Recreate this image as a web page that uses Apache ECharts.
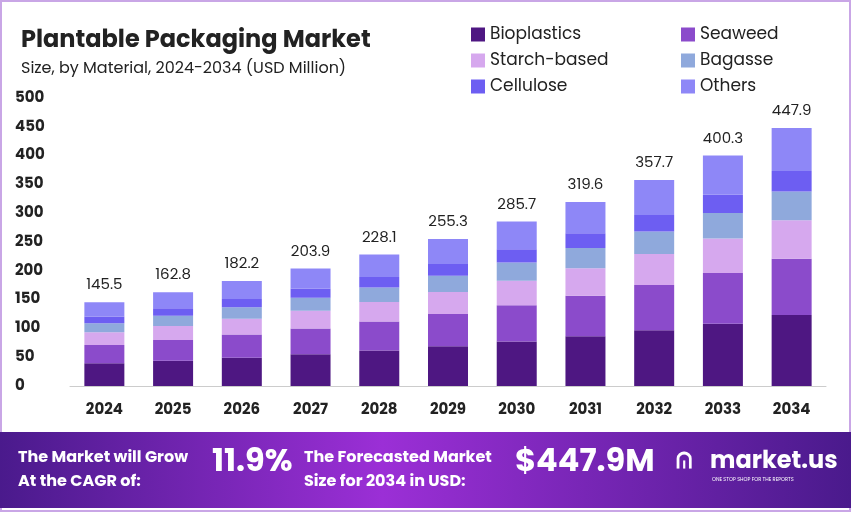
<!DOCTYPE html><html><head><meta charset="utf-8"><script src="https://cdn.jsdelivr.net/npm/echarts@6/dist/echarts.min.js"></script>
<style>html,body{margin:0;padding:0;background:#fff}#c{width:851px;height:512px}</style></head><body><div id="c"></div><script>
const years=['2024','2025','2026','2027','2028','2029','2030','2031','2032','2033','2034'];
const totals=[145.5,162.8,182.2,203.9,228.1,255.3,285.7,319.6,357.7,400.3,447.9];
const bioplastics=[39.3,44.0,49.2,55.1,61.6,68.9,77.1,86.3,96.6,108.1,123.4];
const seaweed=[32.0,35.8,40.1,44.9,50.2,56.2,62.9,70.3,78.7,88.1,97.5];
const starch=[21.8,24.4,27.3,30.6,34.2,38.3,42.9,47.9,53.7,60.0,67.0];
const bagasse=[16.0,17.9,20.0,22.4,25.1,28.1,31.4,35.2,39.3,44.0,49.6];
const cellulose=[11.6,13.0,14.6,16.3,18.2,20.4,22.9,25.6,28.6,32.0,35.7];
const others=[24.8,27.7,31.0,34.6,38.8,43.4,48.5,54.3,60.8,68.1,74.7];
const names=['Bioplastics','Seaweed','Starch-based','Bagasse','Cellulose','Others'];
const colors=['#4e1782','#8b4bcb','#d6a8ee','#8fa9dc','#6d5ef2','#8e87f7'];
const data=[bioplastics,seaweed,starch,bagasse,cellulose,others];
const f='Poppins, Inter, sans-serif';
const ch=echarts.init(document.getElementById('c'));
const legendCommon={orient:'vertical',itemWidth:14,itemHeight:14,itemGap:9,icon:'rect',textStyle:{fontSize:17,color:'#222',fontFamily:f}};
ch.setOption({
 animation:false,
 color:colors,
 title:{text:'Plantable Packaging Market',subtext:'Size, by Material, 2024-2034 (USD Million)',left:16,top:24,
  textStyle:{fontSize:24,fontWeight:'bold',color:'#222',fontFamily:f},subtextStyle:{fontSize:16,color:'#222',fontFamily:f},itemGap:8},
 legend:[
  Object.assign({data:['Bioplastics','Starch-based','Cellulose'],left:466,top:21},legendCommon),
  Object.assign({data:['Seaweed','Bagasse','Others'],left:676,top:21},legendCommon)],
 grid:{left:70,right:25,top:98,bottom:126},
 xAxis:{type:'category',data:years,axisLine:{lineStyle:{color:'#ccc'}},axisTick:{show:false},
  axisLabel:{fontSize:15,fontWeight:'bold',color:'#222',margin:17,fontFamily:f}},
 yAxis:{type:'value',min:0,max:500,interval:50,splitLine:{show:false},
  axisLabel:{fontSize:15,fontWeight:'bold',color:'#222',align:'left',margin:55,fontFamily:f}},
 series:data.map((d,i)=>({name:names[i],type:'bar',stack:'a',barWidth:40,data:d,
  label:i===5?{show:true,position:'top',distance:9,fontSize:15,color:'#222',fontFamily:f,formatter:p=>totals[p.dataIndex].toFixed(1)}:{show:false}})),
 graphic:[
  {type:'rect',shape:{x:1,y:1,width:849,height:510},style:{fill:'none',stroke:'#c9a6e6',lineWidth:2},z:-1},
  {type:'rect',shape:{x:0,y:432,width:851,height:76},style:{fill:new echarts.graphic.LinearGradient(0,0,1,0,[{offset:0,color:'#4a1a8c'},{offset:0.45,color:'#9b2fd6'},{offset:1,color:'#4a1a8c'}])}},
  {type:'text',left:18,top:446,style:{text:'The Market will Grow\nAt the CAGR of:',fill:'#fff',font:'bold 16px '+f,lineHeight:24}},
  {type:'text',left:212,top:447,style:{text:'11.9%',fill:'#fff',font:'bold 32px '+f}},
  {type:'text',left:304,top:446,style:{text:'The Forecasted Market\nSize for 2034 in USD:',fill:'#fff',font:'bold 16px '+f,lineHeight:24}},
  {type:'text',left:515,top:447,style:{text:'$447.9M',fill:'#fff',font:'bold 32px '+f}},
  {type:'text',left:676,top:451,style:{text:'ᕬ',fill:'#fff',font:'bold 22px '+f}},
  {type:'text',left:710,top:450,style:{text:'market.us',fill:'#fff',font:'bold 24px '+f}},
  {type:'text',left:712,top:477,style:{text:'ONE STOP SHOP FOR THE REPORTS',fill:'#fff',font:'5px '+f}}
 ]
});
</script></body></html>
